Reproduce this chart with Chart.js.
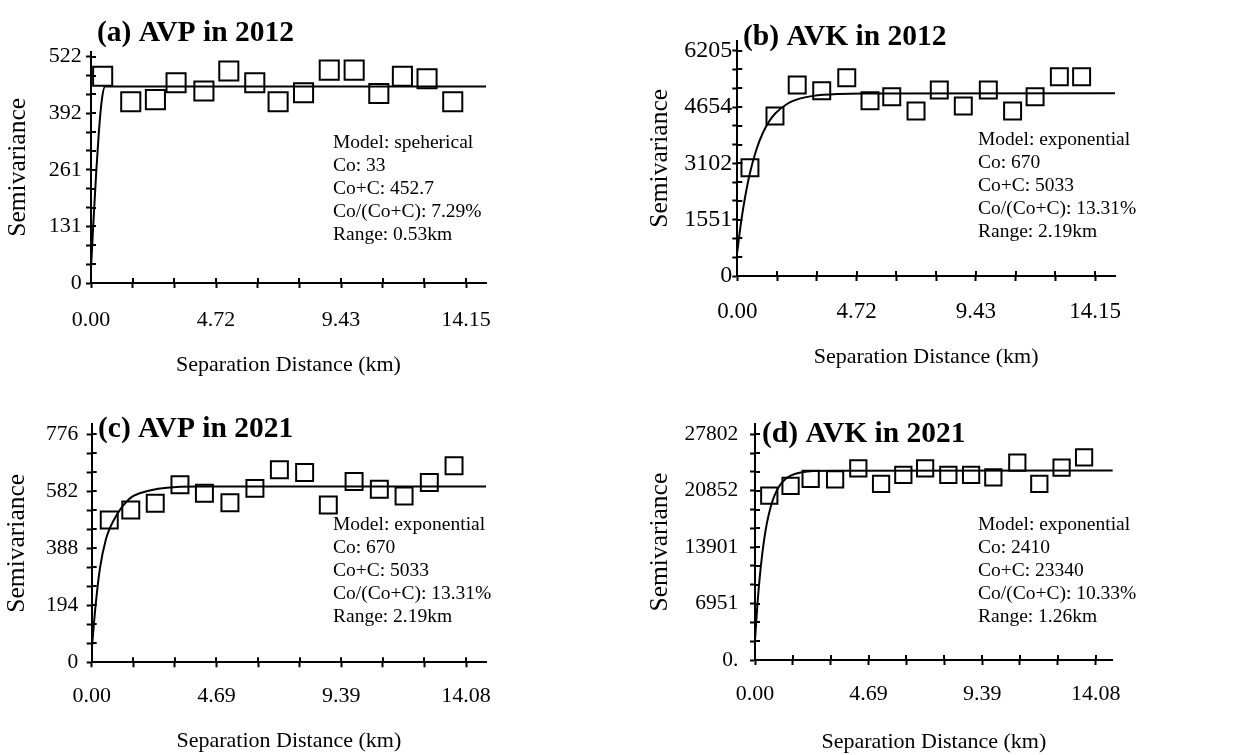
<!DOCTYPE html>
<html><head><meta charset="utf-8">
<script src="https://cdn.jsdelivr.net/npm/chart.js@4/dist/chart.umd.min.js"></script>
<style>
html,body{margin:0;padding:0;background:#fff;width:1258px;height:755px;overflow:hidden}
canvas{position:absolute}
</style>
</head><body>
<canvas id="pa" width="629" height="377" style="left:0px;top:0px"></canvas>
<canvas id="pb" width="629" height="377" style="left:629px;top:0px"></canvas>
<canvas id="pc" width="629" height="378" style="left:0px;top:377px"></canvas>
<canvas id="pd" width="629" height="378" style="left:629px;top:377px"></canvas>
<script>
// ---------- data ----------
const titleA = '(a) AVP in 2012';
const titleB = '(b) AVK in 2012';
const titleC = '(c) AVP in 2021';
const titleD = '(d) AVK in 2021';

const notesA = ['Model: speherical','Co: 33','Co+C: 452.7','Co/(Co+C): 7.29%','Range: 0.53km'];
const notesB = ['Model: exponential','Co: 670','Co+C: 5033','Co/(Co+C): 13.31%','Range: 2.19km'];
const notesC = ['Model: exponential','Co: 670','Co+C: 5033','Co/(Co+C): 13.31%','Range: 2.19km'];
const notesD = ['Model: exponential','Co: 2410','Co+C: 23340','Co/(Co+C): 10.33%','Range: 1.26km'];

const xLabelsA = ['0.00','4.72','9.43','14.15'];
const yLabelsA = ['0','131','261','392','522'];
const xLabelsB = ['0.00','4.72','9.43','14.15'];
const yLabelsB = ['0','1551','3102','4654','6205'];
const xLabelsC = ['0.00','4.69','9.39','14.08'];
const yLabelsC = ['0','194','388','582','776'];
const xLabelsD = ['0.00','4.69','9.39','14.08'];
const yLabelsD = ['0.','6951','13901','20852','27802'];

const lagA = [0.44,1.50,2.43,3.21,4.26,5.20,6.18,7.06,8.02,8.99,9.93,10.86,11.75,12.68,13.65];
const semA = [477,418,423,462,443,489,462,418,439,491,491,437,477,471,418];
const lagB = [0.50,1.49,2.37,3.34,4.33,5.25,6.11,7.07,7.99,8.94,9.93,10.89,11.78,12.74,13.62];
const semB = [2983,4406,5260,5104,5462,4828,4938,4544,5122,4681,5122,4544,4938,5489,5489];
const lagC = [0.66,1.47,2.39,3.32,4.24,5.20,6.14,7.06,8.01,8.90,9.87,10.82,11.75,12.70,13.63];
const semC = [484,518,541,604,575,543,592,655,646,535,615,589,566,612,669];
const lagD = [0.59,1.47,2.30,3.31,4.27,5.21,6.13,7.03,7.99,8.93,9.85,10.84,11.75,12.67,13.60];
const semD = [20246,21437,22299,22258,23613,21683,22792,23613,22792,22792,22504,24311,21683,23695,24968];

const modelXA = [0,0.1,0.2,0.3,0.4,0.53,15];
const modelYA = [33,150,259,351,418,453,453];
const modelXB = [0,0.1,0.2,0.3,0.5,0.75,1.0,1.25,1.5,2.0,2.5,3.0,4.0,5.0,15];
const modelYB = [670,1228,1717,2140,2834,3471,3925,4248,4475,4751,4891,4961,5015,5029,5033];
const modelXC = [0,0.05,0.14,0.31,0.53,0.7,0.85,1.0,1.18,1.51,2.06,2.5,3.2,4.0,15];
const modelYC = [40,95,188,320,417,460,487,510,533,563,582,591,597,598,598];
const modelXD = [0,0.1,0.2,0.3,0.4,0.5,0.65,0.8,1.0,1.26,1.5,2.0,2.5,3.0,15];
const modelYD = [2410,6847,10342,13084,15261,16977,18882,20221,21404,22298,22752,23161,23286,23324,23340];

// ---------- layout / style ----------
const FONT = '"Liberation Serif", "Times New Roman", serif';
const Y_TITLE_SIZE = 25.5, X_TITLE_SIZE = 22;

const panels = [
  {id:'pa', cx:0, cy:0, cw:629, ch:377, L:91, R:486, B:283, xTickPx:466, tickTop:56.7, over:5,
   yTitleC:18, xTitleOff:11.5, xFont:22, yFont:22, yPad:4.3, xPad:18.8, ptR:13.5,
   title:titleA, tx:97, ty:41, notes:notesA, nx:333, ny:148,
   xs:lagA, ys:semA, mx:modelXA, my:modelYA, xl:xLabelsA, yl:yLabelsA},
  {id:'pb', cx:629, cy:0, cw:629, ch:377, L:737.3, R:1115, B:276, xTickPx:1095, tickTop:50.7, over:10,
   yTitleC:31, xTitleOff:20, xFont:23, yFont:24, yPad:0, xPad:17, ptR:12,
   title:titleB, tx:114, ty:45, notes:notesB, nx:349, ny:145,
   xs:lagB, ys:semB, mx:modelXB, my:modelYB, xl:xLabelsB, yl:yLabelsB},
  {id:'pc', cx:0, cy:377, cw:629, ch:378, L:91.7, R:486, B:662.3, xTickPx:466, tickTop:434.3, over:10,
   yTitleC:17, xTitleOff:13.5, xFont:22, yFont:21.5, yPad:8.4, xPad:16.2, ptR:12,
   title:titleC, tx:98, ty:60, notes:notesC, nx:333, ny:153,
   xs:lagC, ys:semC, mx:modelXC, my:modelYC, xl:xLabelsC, yl:yLabelsC},
  {id:'pd', cx:629, cy:377, cw:629, ch:378, L:755, R:1112.7, B:660, xTickPx:1095.7, tickTop:434.3, over:10,
   yTitleC:31, xTitleOff:12.5, xFont:22, yFont:21.5, yPad:11.7, xPad:16, ptR:11.5,
   title:titleD, tx:133, ty:65, notes:notesD, nx:349, ny:153,
   xs:lagD, ys:semD, mx:modelXD, my:modelYD, xl:xLabelsD, yl:yLabelsD}
];

const decor = {
  id: 'decor',
  afterDraw(chart, args, o) {
    const ctx = chart.ctx;
    const xs = chart.scales.x, ys = chart.scales.y;
    ctx.save();
    ctx.strokeStyle = '#000';
    ctx.lineWidth = 2;
    xs.ticks.forEach(t => {
      const px = Math.round(xs.getPixelForValue(t.value));
      ctx.beginPath(); ctx.moveTo(px, xs.top); ctx.lineTo(px, xs.top - 5); ctx.stroke();
    });
    ys.ticks.forEach(t => {
      const py = Math.round(ys.getPixelForValue(t.value));
      ctx.beginPath(); ctx.moveTo(ys.right, py); ctx.lineTo(ys.right + 5, py); ctx.stroke();
    });
    ctx.fillStyle = '#000';
    ctx.textAlign = 'left';
    ctx.textBaseline = 'alphabetic';
    ctx.font = 'bold 29.5px ' + FONT;
    ctx.fillText(o.title, o.tx, o.ty);
    ctx.font = '19.5px ' + FONT;
    o.notes.forEach((s, i) => ctx.fillText(s, o.nx, o.ny + i * 23));
    ctx.restore();
  }
};

Chart.defaults.font.family = FONT;
Chart.defaults.color = '#000';

function makeChart(p) {
  const xTop = parseFloat(p.xl[p.xl.length - 1]);
  const yTop = parseFloat(p.yl[p.yl.length - 1]);
  const xMax = xTop * (p.R - p.L) / (p.xTickPx - p.L);
  const T = p.tickTop - p.over;
  const yMax = yTop * (p.B - T) / (p.B - p.tickTop);
  const padL = p.yTitleC - Y_TITLE_SIZE * 1.2 / 2;
  const yW = p.L - p.cx - padL;
  const xH = p.cy + p.ch - p.B;
  const xTickVals = [], yTickVals = [];
  for (let i = 0; i <= 9; i++) xTickVals.push(xTop / 9 * i);
  for (let i = 0; i <= 12; i++) yTickVals.push(yTop / 12 * i);

  const pts = p.xs.map((v, i) => ({x: v, y: p.ys[i]}));
  const line = p.mx.map((v, i) => ({x: v, y: p.my[i]}));

  const axisCommon = {
    grid: {drawOnChartArea: false, drawTicks: true, tickLength: 5, tickWidth: 2, tickColor: '#000', color: '#000'},
    border: {display: true, color: '#000', width: 2}
  };

  new Chart(document.getElementById(p.id), {
    type: 'scatter',
    data: {
      datasets: [
        {data: pts, pointStyle: 'rect', pointRadius: p.ptR, pointBorderWidth: 2,
         borderColor: '#000', backgroundColor: 'rgba(0,0,0,0)', showLine: false, order: 0},
        {data: line, showLine: true, pointRadius: 0, borderColor: '#000', borderWidth: 2,
         cubicInterpolationMode: 'monotone', backgroundColor: 'rgba(0,0,0,0)', order: 1}
      ]
    },
    options: {
      responsive: false, animation: false, devicePixelRatio: 1,
      layout: {padding: {left: padL, top: T - p.cy, right: p.cx + p.cw - p.R, bottom: 0}},
      plugins: {
        legend: {display: false}, tooltip: {enabled: false},
        decor: {title: p.title, tx: p.tx, ty: p.ty, notes: p.notes, nx: p.nx, ny: p.ny}
      },
      scales: {
        x: Object.assign({}, axisCommon, {
          type: 'linear', min: 0, max: xMax,
          afterBuildTicks: s => { s.ticks = xTickVals.map(v => ({value: v})); },
          afterFit: s => { s.height = xH; },
          ticks: {autoSkip: false, maxRotation: 0, minRotation: 0, padding: p.xPad,
                  font: {size: p.xFont, family: FONT}, color: '#000',
                  callback: (v, i) => (i % 3 === 0 ? p.xl[i / 3] : '')},
          title: {display: true, text: 'Separation Distance (km)', color: '#000',
                  font: {size: X_TITLE_SIZE, family: FONT},
                  padding: {top: 0, bottom: p.xTitleOff - X_TITLE_SIZE * 1.2 / 2}}
        }),
        y: Object.assign({}, axisCommon, {
          type: 'linear', min: 0, max: yMax,
          afterBuildTicks: s => { s.ticks = yTickVals.map(v => ({value: v})); },
          afterFit: s => { s.width = yW; },
          ticks: {autoSkip: false, padding: p.yPad, font: {size: p.yFont, family: FONT}, color: '#000',
                  callback: (v, i) => (i % 3 === 0 ? p.yl[i / 3] : '')},
          title: {display: true, text: 'Semivariance', color: '#000',
                  font: {size: Y_TITLE_SIZE, family: FONT}, padding: {top: 0, bottom: 0}}
        })
      }
    },
    plugins: [decor]
  });
}

panels.forEach(makeChart);
</script>
</body></html>
